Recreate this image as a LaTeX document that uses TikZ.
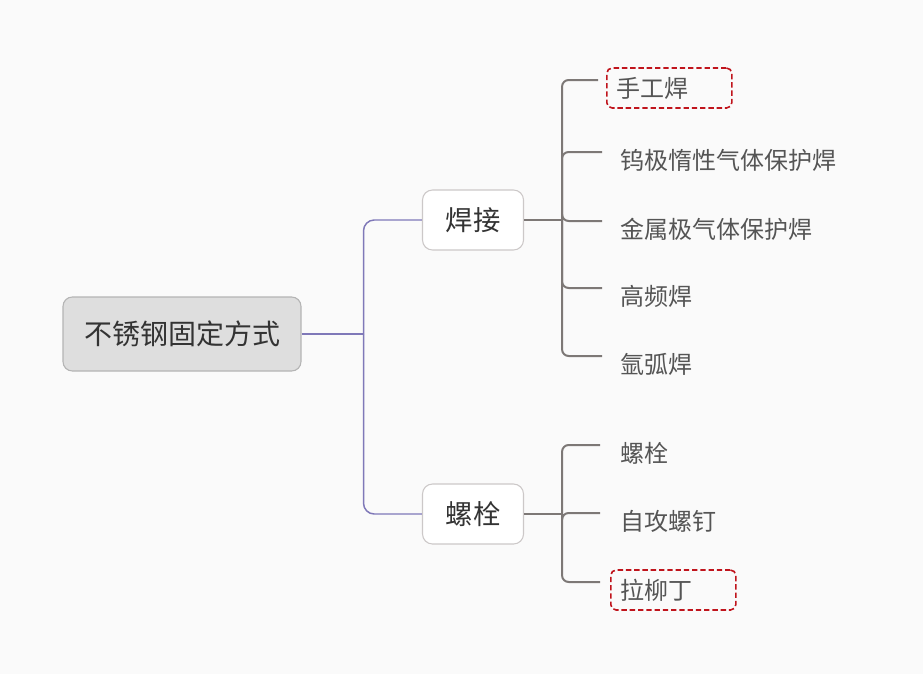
\documentclass[tikz,border=0pt]{standalone}
\usepackage{fontspec}
\setmainfont{Noto Sans CJK SC}
\usepackage{xcolor}
\usepackage{tikz}
\usetikzlibrary{positioning,calc}
\definecolor{pagebg}{HTML}{FAFAFA}
\definecolor{rootfill}{HTML}{DEDEDE}
\definecolor{rootedge}{HTML}{B4B4B4}
\definecolor{topicedge}{HTML}{CCC8C8}
\definecolor{purpleline}{HTML}{7F78B8}
\definecolor{grayline}{HTML}{7D7876}
\definecolor{markred}{HTML}{C0141C}
\definecolor{leaftext}{HTML}{555555}

\begin{document}
\begin{tikzpicture}[
            x=0.75pt, y=-0.75pt,
            root/.style={draw=rootedge,fill=rootfill,rounded corners=7pt,line width=0.8pt,minimum width=178.5pt,minimum height=55.5pt,font=\fontsize{21pt}{25pt}\selectfont,text=black!80},
            topic/.style={draw=topicedge,fill=white,rounded corners=7.5pt,line width=0.8pt,minimum width=75.75pt,minimum height=45pt,font=\fontsize{20.5pt}{24pt}\selectfont,text=black!80},
            leaf/.style={anchor=west,inner xsep=7.5pt,font=\fontsize{18pt}{21pt}\selectfont,text=leaftext},
            marked/.style={draw=markred,dash pattern=on 4pt off 2.2pt,line width=1.2pt,rounded corners=4pt,text width=78.75pt,align=left,minimum height=30pt},
            mainline/.style={draw=purpleline,line width=1.1pt},
            stemline/.style={draw=grayline,line width=2.2pt},
            subline/.style={draw=grayline,line width=1.5pt,rounded corners=5pt}
        ]
            \fill[pagebg] (0,0) rectangle (923,674);
            \useasboundingbox (0,0) rectangle (923,674);

            \node[root] (root) at (182,334) {不锈钢固定方式};
            \node[topic] (weld) at (473,220) {焊接};
            \node[topic] (bolt) at (473,514) {螺栓};

            \node[leaf,marked] (manual) at (606,88) {手工焊};
            \node[leaf] (tig) at (610,160) {钨极惰性气体保护焊};
            \node[leaf] (mig) at (610,229) {金属极气体保护焊};
            \node[leaf] (hf) at (610,296) {高频焊};
            \node[leaf] (argon) at (610,364) {氩弧焊};

            \node[leaf] (screw) at (610,453) {螺栓};
            \node[leaf] (tapping) at (610,521) {自攻螺钉};
            \node[leaf,marked] (rivet) at (610,590) {拉柳丁};

            % root to topics
            \path (root.east) ++(62,0) coordinate (rootsplit);
            \draw[mainline] (root.east) -- (rootsplit);
            \draw[mainline,rounded corners=8pt] (rootsplit) |- (weld.west);
            \draw[mainline,rounded corners=8pt] (rootsplit) |- (bolt.west);

            % topics to leaves
            \path (weld.east) ++(38,0) coordinate (weldsplit);
            \path (bolt.east) ++(38,0) coordinate (boltsplit);
            \draw[stemline] (weld.east) -- (weldsplit);
            \draw[stemline] (bolt.east) -- (boltsplit);
            \foreach \leafname in {manual,tig,mig,hf,argon}
                \draw[subline] (weldsplit) |- ([shift={(-8,-8)}]\leafname.west |- \leafname.west);
            \foreach \leafname in {screw,tapping,rivet}
                \draw[subline] (boltsplit) |- ([shift={(-10,-8)}]\leafname.west);
        \end{tikzpicture}
\end{document}
